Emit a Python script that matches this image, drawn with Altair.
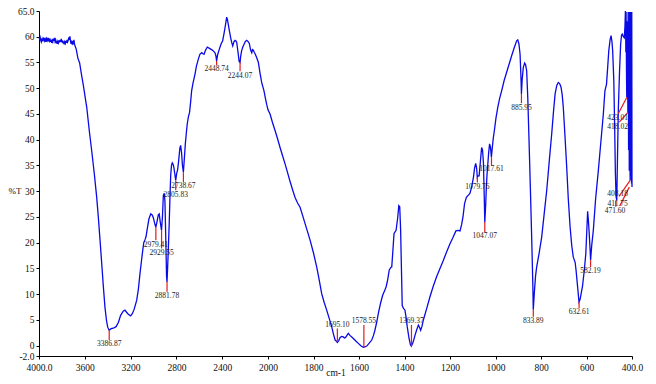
import altair as alt
import pandas as pd

# ---------------- spectrum (wavenumber cm-1, %T) ----------------
wavenumber = [
    4000, 3995, 3990, 3985, 3980, 3975, 3970, 3965, 3960, 3955, 3950, 3945, 3940, 3935, 3930,
    3925, 3920, 3915, 3910, 3905, 3900, 3895, 3890, 3885, 3880, 3875, 3870, 3865, 3860, 3855,
    3850, 3845, 3840, 3835, 3830, 3825, 3820, 3815, 3810, 3805, 3800, 3795, 3790, 3785, 3780,
    3775, 3770, 3765, 3760, 3755, 3750, 3745, 3740, 3735, 3730, 3725, 3720, 3715, 3710, 3705,
    3700, 3695, 3690, 3685, 3675, 3660, 3645, 3630, 3613, 3595, 3583, 3561, 3540, 3517, 3496,
    3482, 3467, 3452, 3438, 3424, 3410, 3400, 3387, 3370, 3351, 3327, 3307, 3287, 3265, 3249,
    3235, 3220, 3200, 3185, 3170, 3147, 3132, 3118, 3105, 3094, 3085, 3074, 3065, 3054, 3040,
    3024, 3012, 3002, 2990, 2980, 2970, 2958, 2950, 2942, 2930, 2922, 2914, 2906, 2900, 2893,
    2886, 2882, 2877, 2870, 2862, 2856, 2850, 2843, 2836, 2828, 2821, 2813, 2806, 2798, 2789,
    2780, 2770, 2763, 2755, 2747, 2739, 2731, 2722, 2712, 2705, 2695, 2685, 2675, 2667, 2655,
    2638, 2625, 2609, 2595, 2579, 2568, 2559, 2545, 2530, 2515, 2500, 2492, 2480, 2463, 2455,
    2449, 2440, 2425, 2410, 2396, 2385, 2375, 2368, 2361, 2354, 2347, 2336, 2326, 2316, 2308,
    2298, 2288, 2280, 2273, 2262, 2252, 2244, 2238, 2230, 2220, 2210, 2198, 2186, 2175, 2163,
    2152, 2142, 2135, 2128, 2120, 2113, 2100, 2084, 2070, 2055, 2045, 2035, 2022, 2012, 2000,
    1991, 1980, 1969, 1958, 1947, 1936, 1925, 1914, 1903, 1892, 1881, 1870, 1859, 1848, 1837,
    1826, 1815, 1800, 1786, 1775, 1764, 1753, 1742, 1731, 1720, 1712, 1705, 1700, 1695, 1689,
    1683, 1676, 1669, 1664, 1659, 1653, 1647, 1640, 1632, 1625, 1614, 1603, 1592, 1581, 1574,
    1566, 1555, 1544, 1537, 1530, 1522, 1515, 1505, 1496, 1488, 1481, 1474, 1467, 1460, 1456,
    1451, 1446, 1440, 1437, 1430, 1425, 1421, 1417, 1413, 1410, 1405, 1398, 1393, 1388, 1380,
    1374, 1370, 1365, 1360, 1354, 1347, 1339, 1333, 1329, 1323, 1317, 1302, 1288, 1274, 1259,
    1244, 1229, 1215, 1200, 1187, 1174, 1165, 1156, 1149, 1143, 1136, 1128, 1118, 1112, 1104,
    1097, 1092, 1087, 1083, 1080, 1076, 1072, 1066, 1061, 1057, 1053, 1050, 1047, 1043, 1040,
    1037, 1030, 1026, 1022, 1018, 1014, 1010, 1005, 998, 990, 982, 973, 962, 951, 940,
    929, 918, 907, 902, 897, 892, 888, 886, 883, 878, 872, 868, 863, 858, 853,
    847, 841, 836, 834, 829, 824, 819, 808, 797, 786, 775, 764, 753, 745, 738,
    731, 724, 718, 712, 707, 702, 695, 687, 680, 672, 665, 658, 650, 646, 639,
    633, 628, 622, 618, 610, 603, 599, 595, 592, 588, 584, 582, 577, 570, 560,
    548, 537, 526, 519, 512, 507, 502, 496, 492, 488, 485, 480, 476, 473, 470,
    467, 464, 460, 455, 450, 446, 443, 438, 434, 431, 429, 427, 426, 424, 423,
    422, 420, 419, 418, 417, 415, 414, 412, 411, 409, 408, 407, 405, 403, 402,
    401, 400,
]
transmittance = [
    59.8, 59.6, 59.9, 59.3, 59.0, 59.5, 59.3, 59.7, 59.4, 59.8, 59.2, 59.5, 59.0, 59.6, 59.3,
    59.8, 59.1, 59.5, 59.2, 59.7, 59.0, 59.4, 58.8, 59.3, 59.0, 59.6, 59.2, 59.8, 59.1, 59.4,
    58.7, 59.2, 58.6, 59.1, 58.8, 59.3, 58.9, 59.4, 59.0, 59.6, 58.9, 59.3, 58.7, 59.1, 58.5,
    59.0, 58.7, 59.2, 58.8, 59.4, 59.0, 59.3, 59.9, 59.4, 60.1, 59.2, 58.6, 59.0, 58.7, 59.2,
    58.5, 59.4, 58.6, 58.2, 57.6, 55.8, 54.9, 52.8, 50.6, 48.0, 46.3, 41.8, 37.9, 33.4, 28.8,
    25.0, 20.5, 15.9, 11.5, 7.5, 4.8, 3.6, 3.0, 3.3, 3.4, 3.7, 4.5, 5.9, 6.7, 6.9,
    6.5, 6.1, 5.8, 6.2, 7.0, 8.8, 11.0, 14.0, 16.5, 18.5, 20.0, 20.6, 21.2, 22.8, 24.6,
    25.6, 25.4, 24.9, 23.8, 23.0, 24.0, 25.4, 25.6, 24.2, 22.4, 25.0, 29.2, 29.6, 28.0, 21.0,
    13.5, 12.4, 15.0, 19.0, 24.3, 29.0, 33.0, 35.0, 35.5, 35.2, 34.5, 33.2, 32.1, 33.4, 34.2,
    36.0, 38.3, 38.9, 37.5, 35.0, 33.7, 36.2, 39.2, 41.6, 43.1, 44.5, 45.3, 47.5, 49.5, 51.0,
    52.7, 54.3, 55.6, 56.6, 56.9, 56.7, 56.6, 57.4, 58.0, 57.8, 57.6, 57.5, 57.3, 56.9, 56.3,
    55.3, 56.5, 57.6, 58.6, 59.2, 60.5, 61.8, 62.8, 63.8, 63.3, 62.4, 61.0, 59.8, 58.8, 58.2,
    59.0, 59.3, 59.2, 58.9, 57.0, 55.2, 55.0, 56.3, 57.3, 58.0, 58.5, 59.1, 59.3, 59.1, 58.7,
    57.4, 56.9, 57.5, 57.4, 57.0, 56.7, 56.0, 55.0, 53.0, 51.1, 50.3, 49.5, 48.0, 46.9, 45.8,
    45.0, 43.3, 41.8, 40.2, 38.5, 36.9, 35.3, 33.6, 31.9, 30.3, 28.8, 27.7, 26.9, 25.3, 23.7,
    22.1, 20.5, 18.0, 15.3, 12.8, 10.1, 8.4, 6.9, 5.3, 3.7, 2.2, 1.1, 0.9, 0.65, 1.0,
    1.6, 1.8, 1.7, 1.5, 1.6, 2.0, 2.4, 2.0, 1.7, 1.4, 0.9, 0.45, 0.0, -0.3, -0.25,
    -0.07, 0.5, 1.1, 1.9, 3.0, 4.6, 6.3, 8.3, 9.8, 10.6, 11.4, 12.8, 14.7, 15.2, 15.3,
    18.5, 21.8, 22.2, 22.4, 24.8, 27.2, 27.0, 22.4, 14.0, 7.8, 7.3, 6.9, 5.5, 3.7, 1.4,
    0.2, -0.07, 0.4, 1.0, 2.0, 3.0, 4.0, 3.5, 3.0, 3.8, 5.0, 7.3, 9.5, 11.5, 13.4,
    15.0, 16.6, 18.2, 19.8, 21.0, 22.3, 22.4, 22.3, 23.5, 25.0, 27.6, 28.8, 29.3, 29.6, 31.0,
    32.7, 34.5, 35.4, 34.5, 32.7, 33.0, 33.0, 36.0, 38.5, 38.0, 35.5, 30.0, 24.0, 27.5, 31.0,
    33.4, 37.5, 39.2, 38.5, 36.6, 38.5, 40.2, 41.8, 44.2, 46.3, 48.0, 49.5, 51.5, 53.1, 54.7,
    56.3, 57.8, 59.2, 59.4, 58.6, 56.6, 52.0, 48.9, 51.5, 54.0, 54.9, 54.6, 53.4, 48.0, 40.5,
    31.0, 21.1, 12.0, 7.0, 10.5, 13.5, 15.3, 18.0, 21.1, 25.6, 30.1, 35.7, 41.1, 45.5, 48.9,
    50.5, 51.1, 50.9, 50.2, 48.8, 46.3, 41.0, 34.7, 28.5, 23.0, 19.5, 17.2, 16.2, 14.7, 11.4,
    8.5, 9.0, 10.5, 11.4, 14.5, 17.9, 22.0, 26.1, 24.5, 21.8, 18.5, 16.6, 19.5, 22.4, 28.5,
    34.0, 39.5, 45.0, 49.5, 50.8, 54.0, 57.3, 59.5, 60.2, 59.0, 57.3, 51.5, 42.0, 33.5, 29.0,
    28.2, 36.0, 46.0, 53.0, 58.5, 60.3, 60.5, 60.0, 59.8, 62.0, 65.0, 57.0, 64.8, 52.0, 48.2,
    63.0, 55.0, 50.0, 45.3, 64.8, 38.0, 62.0, 34.0, 64.8, 35.0, 32.1, 64.8, 33.0, 64.8, 31.5,
    64.8, 30.8,
]

# ---------------- peak annotations ----------------
# single labels: text, %T at the band, leader length in %T (positive: label below, negative: above)
peak_text = ["3386.87", "2979.41", "2929.55", "2881.78", "2805.83", "2738.67", "2448.74",
             "2244.07", "1695.10", "1578.55", "1369.37", "1079.76", "1047.07", "1017.61",
             "885.95", "833.89", "632.61", "582.19"]
peak_T = [3.0, 23.0, 22.4, 12.4, 32.1, 33.7, 55.3, 55.0, 0.65, -0.3, -0.07, 32.7, 24.0, 36.6,
          48.9, 7.0, 8.5, 16.6]
peak_lead = [1.9, 2.5, 3.5, 1.9, 1.9, 1.9, 0.8, 1.7, -2.7, -4.3, -4.1, 1.0, 1.9, 1.5,
             1.8, 1.4, 1.2, 1.3]

# crowded labels near 400 cm-1: text, %T at band, label position (cm-1, %T), leader start
crowd_text = ["423.01", "418.02", "408.18", "411.75", "471.60"]
crowd_T = [48.2, 45.3, 32.1, 30.8, 28.2]
crowd_label_x = [463, 463, 463, 463, 475]
crowd_label_y = [44.2, 42.4, 29.4, 27.6, 26.1]
crowd_lead_x = [460, 456, 457, 453, 471.6]
crowd_lead_y = [45.1, 43.4, 29.0, 27.2, 27.0]

x_ticks = [4000, 3600, 3200, 2800, 2400, 2000, 1800, 1600, 1400, 1200, 1000, 800, 600, 400]
y_ticks = [-2, 0, 5, 10, 15, 20, 25, 30, 35, 40, 45, 50, 55, 60, 65]

# ---------------- tables ----------------
spec = pd.DataFrame({"wn": wavenumber, "T": transmittance})

rows = []
for t, T, L in zip(peak_text, peak_T, peak_lead):
    w = float(t)
    end = T - L
    ty = end - 0.85 if L > 0 else end + 0.75
    rows.append({"text": t, "x": w, "y": T, "x2": w, "y2": end, "tx": w, "ty": ty})
for t, T, lx, ly, sx, sy in zip(crowd_text, crowd_T, crowd_label_x, crowd_label_y,
                                crowd_lead_x, crowd_lead_y):
    w = float(t)
    rows.append({"text": t, "x": w, "y": T, "x2": sx, "y2": sy, "tx": lx, "ty": ly})
ann = pd.DataFrame(rows)

FONT = "Liberation Serif"
xs = alt.Scale(domain=[4000, 2000, 400], range=[0, 229, 593], nice=False, zero=False)
ys = alt.Scale(domain=[-2, 65], nice=False, zero=False)

x_axis = alt.Axis(
    values=x_ticks,
    labelExpr="datum.value == 4000 ? '4000.0' : datum.value == 400 ? '400.0' : format(datum.value, 'd')",
    title="cm-1", titleFont=FONT, titleFontSize=9.5, titleFontWeight="normal", titleColor="#111",
    titleY=19, titleBaseline="alphabetic",
    labelFont=FONT, labelFontSize=9.5, labelColor="#111", labelPadding=3,
    labelOverlap=False, labelFlush=False,
    tickSize=3, tickColor="#000", domainColor="#000", grid=False,
)
y_axis = alt.Axis(
    values=y_ticks,
    labelExpr="datum.value == 65 ? '65.0' : datum.value == -2 ? '-2.0' : format(datum.value, 'd')",
    title="%T", titleAngle=0, titleX=-31, titleY=179, titleAlign="left", titleBaseline="middle",
    titleFont=FONT, titleFontSize=9, titleFontWeight="normal", titleColor="#111",
    labelFont=FONT, labelFontSize=9.5, labelColor="#111", labelPadding=2,
    labelOverlap=False, labelFlush=False,
    tickSize=3, tickColor="#000", domainColor="#000", grid=False,
)

line = alt.Chart(spec).mark_line(color="#0a0ae6", strokeWidth=1.3).encode(
    x=alt.X("wn:Q", scale=xs, axis=x_axis),
    y=alt.Y("T:Q", scale=ys, axis=y_axis),
    order="wn:Q",
)

leaders = alt.Chart(ann).mark_rule(color="#e41a1c", strokeWidth=1.2).encode(
    x=alt.X("x:Q", scale=xs, axis=x_axis),
    y=alt.Y("y:Q", scale=ys, axis=y_axis),
    x2="x2:Q",
    y2="y2:Q",
)

labels = alt.Chart(ann).mark_text(font=FONT, fontSize=7.5, color="#222", baseline="middle",
                                  align="center").encode(
    x=alt.X("tx:Q", scale=xs, axis=x_axis),
    y=alt.Y("ty:Q", scale=ys, axis=y_axis),
    text="text:N",
)

chart = alt.layer(line, leaders, labels).properties(
    width=593, height=345, autosize="none",
    padding={"left": 31, "top": 3, "right": 16, "bottom": 20},
).configure_view(stroke=None).configure_axis(labelOverlap=False)

chart.save("out.html", embed_options={"renderer": "svg", "actions": False})
